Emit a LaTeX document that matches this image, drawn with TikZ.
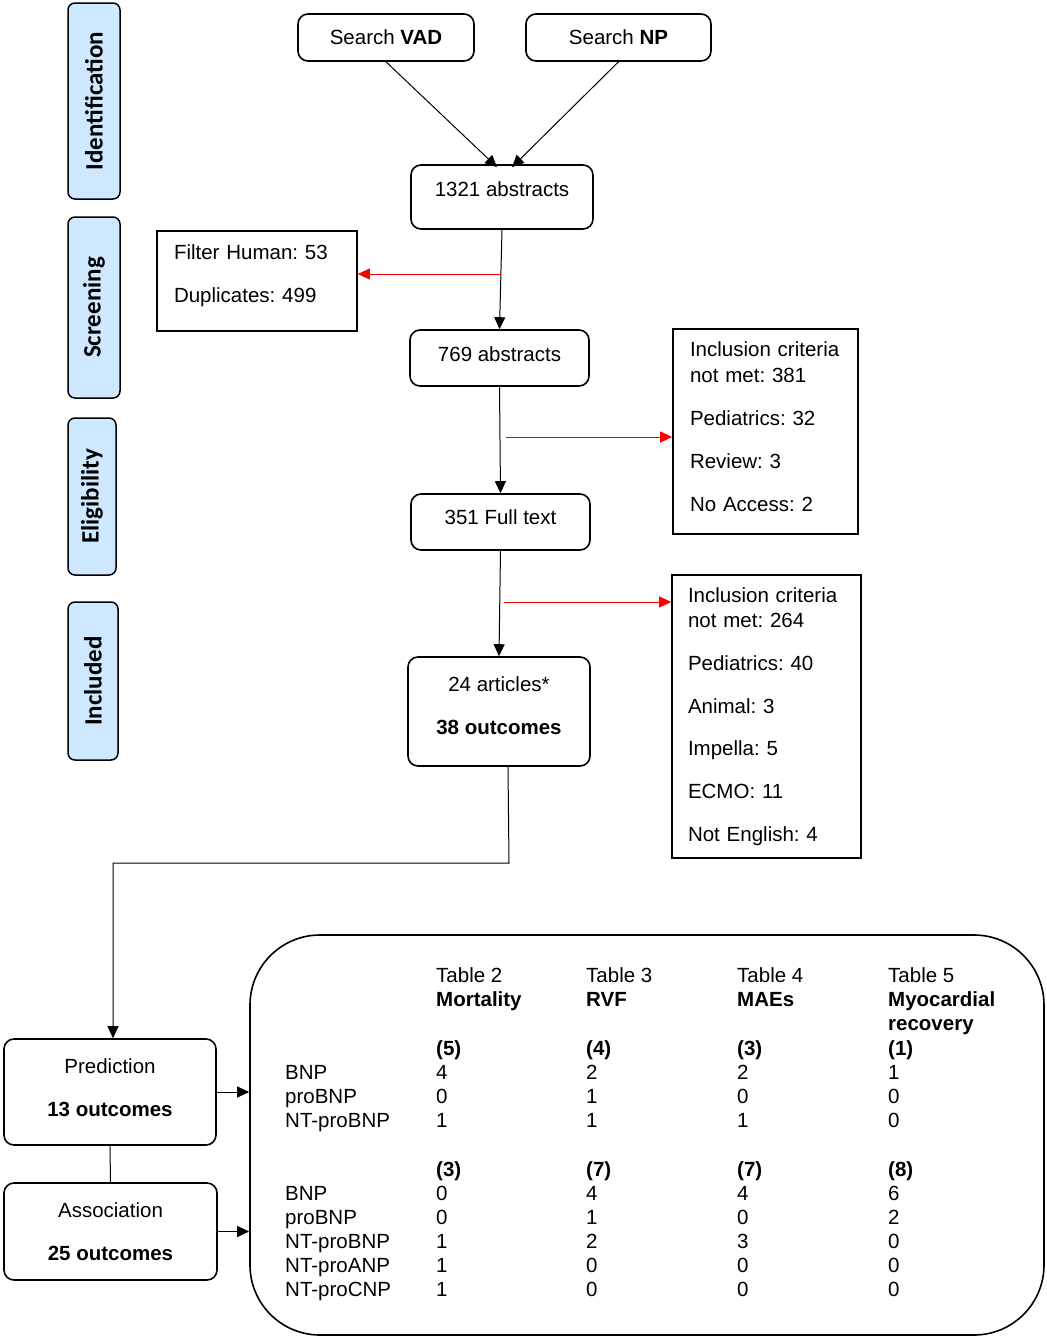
\documentclass[tikz,border=0pt]{standalone}
\usepackage{fontspec}
\setmainfont{Liberation Sans}
\newfontfamily\phasefont{Carlito}
\usetikzlibrary{arrows.meta}

\definecolor{phaseblue}{RGB}{205,232,255}
\frenchspacing

\begin{document}
\begin{tikzpicture}[x=1pt, y=-1pt, >={Triangle[length=12pt,width=11pt]},
    every node/.style={font=\fontsize{20.5}{24}\selectfont},
    phase/.style={draw, line width=1.5pt, rounded corners=7pt, fill=phaseblue, rotate=90,
      font=\phasefont\bfseries\fontsize{25}{30}\selectfont},
    stage/.style={draw, line width=1.6pt, rounded corners=10pt},
    excl/.style={draw, line width=1.6pt, align=left},
    flow/.style={->, line width=1pt},
    redarr/.style={->, red, line width=1pt}]
    \useasboundingbox (0,0) rectangle (1047,1339);

    % phases on the left
    \node[phase, minimum width=196pt, minimum height=52pt] (ident) at (94,101) {Identification};
    \node[phase, minimum width=181pt, minimum height=52pt] (screen) at (94,307.5) {Screening};
    \node[phase, minimum width=157pt, minimum height=48pt] (elig) at (92,496.5) {Eligibility};
    \node[phase, minimum width=158pt, minimum height=50pt] (incl) at (93,681) {Included};

    % search and screening steps
    \node[stage, minimum width=176pt, minimum height=47pt] (vad) at (386,37.5) {Search \textbf{VAD}};
    \node[stage, minimum width=185pt, minimum height=47pt] (np) at (618.5,37.5) {Search \textbf{NP}};
    \node[stage, minimum width=182pt, minimum height=64pt, text height=15pt, text depth=16pt] (abs1) at (502,197) {1321 abstracts};
    \node[stage, minimum width=179pt, minimum height=56pt, text height=15pt, text depth=8pt] (abs2) at (499.5,358) {769 abstracts};
    \node[stage, minimum width=179pt, minimum height=56pt, text height=15pt, text depth=10pt] (full) at (500.5,522) {351 Full text};
    \node[stage, minimum width=182pt, minimum height=109pt, align=center, text depth=12pt] (art) at (499,711.5)
      {24 articles*\\[19pt]\textbf{38 outcomes}};

    % excluded records
    \node[excl, minimum width=200pt, minimum height=100pt, text width=166pt, inner xsep=17pt] (filt) at (257,281)
      {Filter Human: 53\\[19pt]Duplicates: 499\rule[-15pt]{0pt}{15pt}};
    \node[excl, minimum width=185pt, minimum height=205pt, text width=151pt, inner xsep=17pt] (inc1) at (765.5,431.5)
      {Inclusion~criteria\\[2pt]not met: 381\\[19pt]Pediatrics: 32\\[19pt]Review: 3\\[19pt]No Access: 2\rule[-9pt]{0pt}{9pt}};
    \node[excl, minimum width=189pt, minimum height=283pt, text width=157pt, inner xsep=16pt] (inc2) at (766.5,716.5)
      {Inclusion~criteria\\[1pt]not met: 264\\[19pt]Pediatrics: 40\\[19pt]Animal: 3\\[18pt]Impella: 5\\[19pt]ECMO: 11\\[19pt]Not English: 4};

    % outcome groups
    \node[stage, minimum width=212pt, minimum height=106pt, align=center, text depth=8pt] (pred) at (110,1092)
      {Prediction\\[19pt]\textbf{13 outcomes}};
    \node[stage, minimum width=213pt, minimum height=97pt, align=center] (assoc) at (110.5,1231.5)
      {Association\\[19pt]\textbf{25 outcomes}};

    % results table
    \node[draw, line width=1.6pt, rounded corners=70pt, minimum width=794pt, minimum height=400pt] (res) at (647,1135) {};
    \node[anchor=base west, inner sep=0pt] (tbl) at (285,982) {%
      \begin{tabular}[t]{@{}p{151pt}@{}p{150pt}@{}p{151pt}@{}p{151pt}@{}l@{}}
        & Table 2 & Table 3 & Table 4 & Table 5\\
        & \textbf{Mortality} & \textbf{RVF} & \textbf{MAEs} & \textbf{Myocardial}\\
        & & & & \textbf{recovery}\\[1pt]
        & \textbf{(5)} & \textbf{(4)} & \textbf{(3)} & \textbf{(1)}\\
        BNP & 4 & 2 & 2 & 1\\
        proBNP & 0 & 1 & 0 & 0\\
        NT-proBNP & 1 & 1 & 1 & 0\\
        & & & & \\[1pt]
        & \textbf{(3)} & \textbf{(7)} & \textbf{(7)} & \textbf{(8)}\\
        BNP & 0 & 4 & 4 & 6\\
        proBNP & 0 & 1 & 0 & 2\\
        NT-proBNP & 1 & 2 & 3 & 0\\
        NT-proANP & 1 & 0 & 0 & 0\\
        NT-proCNP & 1 & 0 & 0 & 0
      \end{tabular}};

    % connectors
    \draw[flow] (vad.south) -- ([xshift=-5pt,yshift=-3pt]abs1.north);
    \draw[flow] (np.south) -- ([xshift=10pt,yshift=-3pt]abs1.north);
    \draw[flow] (abs1.south) -- (abs2.north);
    \draw[flow] (abs2.south) -- (full.north);
    \draw[flow] (full.south) -- (art.north);

    \coordinate (cut1) at (501,274);
    \coordinate (cut2) at (506,437);
    \coordinate (cut3) at (504,602);
    \draw[redarr] (cut1) -- (cut1 -| filt.east);
    \draw[redarr] (cut2) -- (cut2 -| inc1.west);
    \draw[redarr] (cut3) -- (cut3 -| inc2.west);

    \coordinate (bend) at (509,863);
    \draw[flow] ([xshift=9pt]art.south) -- (bend) -| ([xshift=3pt]pred.north);
    \draw[line width=1pt] (pred.south) -- (assoc.north);
    \draw[flow] (pred.east) -- (pred.east -| res.west);
    \draw[flow] (assoc.east) -- (assoc.east -| res.west);
  \end{tikzpicture}
\end{document}
